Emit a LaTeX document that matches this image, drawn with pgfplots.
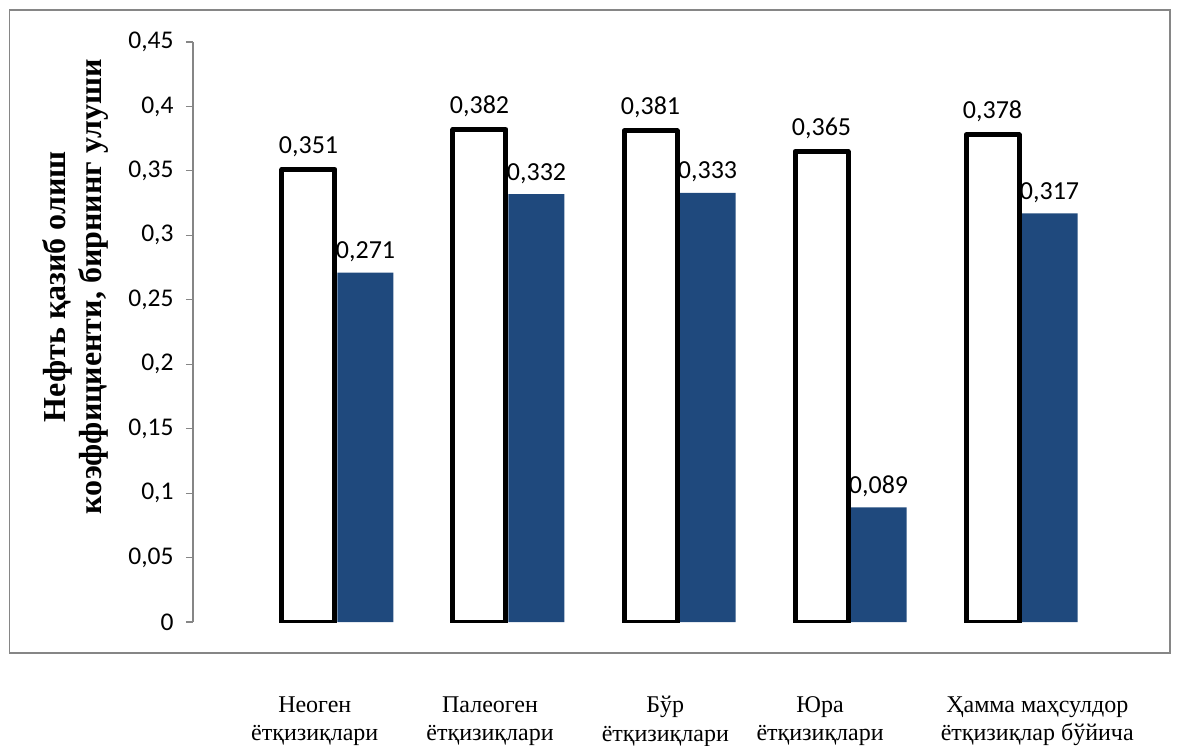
\documentclass[border=0pt]{standalone}
\usepackage{fontspec}
\setmainfont{Liberation Serif}
\newfontfamily\carlito{Carlito}
\usepackage{pgfplots}
\pgfplotsset{compat=1.18}
\definecolor{barblue}{RGB}{31,73,125}
\definecolor{framegray}{RGB}{134,134,134}

\begin{document}
\begin{tikzpicture}
\useasboundingbox (-193pt,-123pt) rectangle (989pt,622pt);
\draw[framegray, line width=1.5pt] (-183.5pt,-31pt) rectangle (977pt,612pt);
\begin{axis}[
  at={(0pt,0pt)}, anchor=south west,
  scale only axis, width=972pt, height=580pt,
  xmin=-0.842, xmax=4.842,
  ymin=0, ymax=0.45,
  ytick={0,0.05,0.1,0.15,0.2,0.25,0.3,0.35,0.4,0.45},
  yticklabels={0,{0,05},{0,1},{0,15},{0,2},{0,25},{0,3},{0,35},{0,4},{0,45}},
  axis y line*=left,
  axis x line*=bottom,
  x axis line style={draw=none},
  y axis line style={framegray, line width=1.2pt},
  ytick style={framegray, line width=1.2pt},
  xtick style={draw=none},
  tick align=outside,
  major tick length=7pt,
  yticklabel style={font=\carlito\fontsize{25.5}{30}\selectfont, xshift=-9pt},
  xtick={-0.13,0.895,1.92,2.825,4.095},
  xticklabels={Неоген\\ётқизиқлари, Палеоген\\ётқизиқлари, Бўр\\ётқизиқлари, Юра\\ётқизиқлари, Ҳамма маҳсулдор\\ётқизиқлар бўйича},
  xticklabel style={align=center, font=\fontsize{24}{28.5}\selectfont, yshift=-64pt},
  ylabel={Нефть қазиб олиш\\коэффициенти, бирнинг улуши},
  ylabel style={align=center, font=\bfseries\fontsize{32}{36}\selectfont,
    at={(axis description cs:-0.121,0.578)}, anchor=center},
  ybar, bar width=56pt,
  point meta=explicit symbolic,
  nodes near coords,
  nodes near coords style={font=\carlito\fontsize{26}{30}\selectfont, black, yshift=7pt},
]
\addplot[fill=barblue, draw=none, bar shift=28.5pt] coordinates {
  (0,0.271) [0,271] (1,0.332) [0,332] (2,0.333) [0,333] (3,0.089) [0,089] (4,0.317) [0,317]};
\addplot[fill=white, draw=black, line width=5pt, line join=round, bar shift=-28.5pt, bar width=53pt] coordinates {
  (0,0.351) [0,351] (1,0.382) [0,382] (2,0.381) [0,381] (3,0.365) [0,365] (4,0.378) [0,378]};
\end{axis}
\end{tikzpicture}
\end{document}
